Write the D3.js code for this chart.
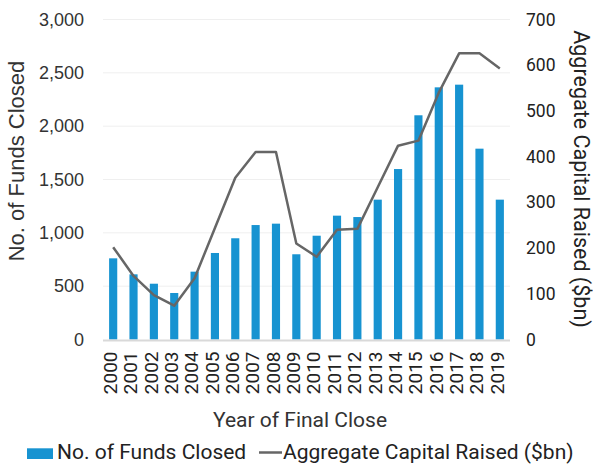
<!DOCTYPE html>
<html><head><meta charset="utf-8">
<script src="https://cdn.jsdelivr.net/npm/d3@7"></script>
<style>body{margin:0;background:#fff}svg{display:block}</style>
</head><body>
<script>
const years = ["2000","2001","2002","2003","2004","2005","2006","2007","2008","2009","2010","2011","2012","2013","2014","2015","2016","2017","2018","2019"];
const fundsClosed = [761,611,523,436,636,811,949,1073,1086,799,973,1161,1148,1311,1598,2102,2364,2389,1789,1311];
const capitalRaised = [202,139,97,74,134,244,354,410,410,210,181,240,242,333,424,435,540,626,626,593];
const leftTicks = [0,500,1000,1500,2000,2500,3000];
const rightTicks = [0,100,200,300,400,500,600,700];

const W = 593, H = 465;
const m = {l:103, r:83, t:19.5, b:125.5};
const svg = d3.select("body").append("svg").attr("width",W).attr("height",H);
const x = d3.scaleBand().domain(years).range([m.l, W-m.r]).paddingInner(0.6).paddingOuter(0.3);
const yL = d3.scaleLinear().domain([0,3000]).range([H-m.b, m.t]);
const yR = d3.scaleLinear().domain([0,700]).range([H-m.b, m.t]);
const fDin = "Roboto, 'DejaVu Sans', sans-serif";
const fArial = "'Liberation Sans', Arial, sans-serif";
const fNarrow = "'Liberation Sans Narrow', 'Arial Narrow', 'Liberation Sans', sans-serif";

// gridlines
svg.append("g").selectAll("line").data(leftTicks.slice(1)).join("line")
  .attr("x1",m.l).attr("x2",W-m.r).attr("y1",d=>yL(d)).attr("y2",d=>yL(d))
  .attr("stroke","#efefef").attr("stroke-width",1);

// bars
svg.append("g").selectAll("rect").data(years).join("rect")
  .attr("x",d=>x(d)).attr("width",x.bandwidth())
  .attr("y",(d,i)=>yL(fundsClosed[i])).attr("height",(d,i)=>yL(0)-yL(fundsClosed[i]))
  .attr("fill","#1793d1");

// baseline
svg.append("line").attr("x1",m.l).attr("x2",W-m.r).attr("y1",yL(0)+1).attr("y2",yL(0)+1)
  .attr("stroke","#d9d9d9").attr("stroke-width",2);

// line
const line = d3.line().x((d,i)=>x(years[i])+x.bandwidth()/2).y(d=>yR(d));
svg.append("path").datum(capitalRaised).attr("d",line).attr("fill","none")
  .attr("stroke","#666").attr("stroke-width",2.5).attr("stroke-linejoin","round");

// left axis
const la = svg.append("g").attr("transform",`translate(${m.l},0)`)
  .call(d3.axisLeft(yL).tickValues(leftTicks).tickFormat(d3.format(",")).tickSize(0).tickPadding(19));
la.select(".domain").remove();
la.selectAll("text").attr("font-family",fArial).attr("font-size",18).attr("fill","#333");

// right axis
const ra = svg.append("g").attr("transform",`translate(${W-m.r},0)`)
  .call(d3.axisRight(yR).tickValues(rightTicks).tickSize(0).tickPadding(16));
ra.select(".domain").remove();
ra.selectAll("text").attr("font-family",fDin).attr("font-size",17.5).attr("fill","#222");

// x axis
const xa = svg.append("g").attr("transform",`translate(0,${H-m.b})`)
  .call(d3.axisBottom(x).tickSize(0));
xa.select(".domain").remove();
xa.selectAll("text").attr("font-family",fDin).attr("font-size",19).attr("fill","#222")
  .attr("text-anchor","end").attr("dy","0.2em")
  .attr("transform","translate(0,12) rotate(-90)").attr("x",0).attr("y",0);

// titles
svg.append("text").attr("transform",`translate(24,161) rotate(-90)`)
  .attr("text-anchor","middle").attr("font-family",fNarrow).attr("font-size",22).attr("fill","#333")
  .text("No. of Funds Closed");
svg.append("text").attr("transform",`translate(574,179) rotate(90)`)
  .attr("text-anchor","middle").attr("font-family",fDin).attr("font-size",21.5).attr("fill","#222")
  .text("Aggregate Capital Raised ($bn)");
svg.append("text").attr("x",300).attr("y",427).attr("text-anchor","middle")
  .attr("font-family",fDin).attr("font-size",21).attr("fill","#333").text("Year of Final Close");

// legend
const lg = svg.append("g");
lg.append("rect").attr("x",27).attr("y",448.3).attr("width",26).attr("height",10.7).attr("fill","#1793d1");
lg.append("text").attr("x",57).attr("y",459).attr("font-family",fDin).attr("font-size",21).attr("fill","#222").text("No. of Funds Closed");
lg.append("line").attr("x1",259).attr("x2",282).attr("y1",452.5).attr("y2",452.5).attr("stroke","#666").attr("stroke-width",2.5);
lg.append("text").attr("x",283).attr("y",459).attr("font-family",fDin).attr("font-size",21).attr("fill","#222").text("Aggregate Capital Raised ($bn)");
</script>
</body></html>
